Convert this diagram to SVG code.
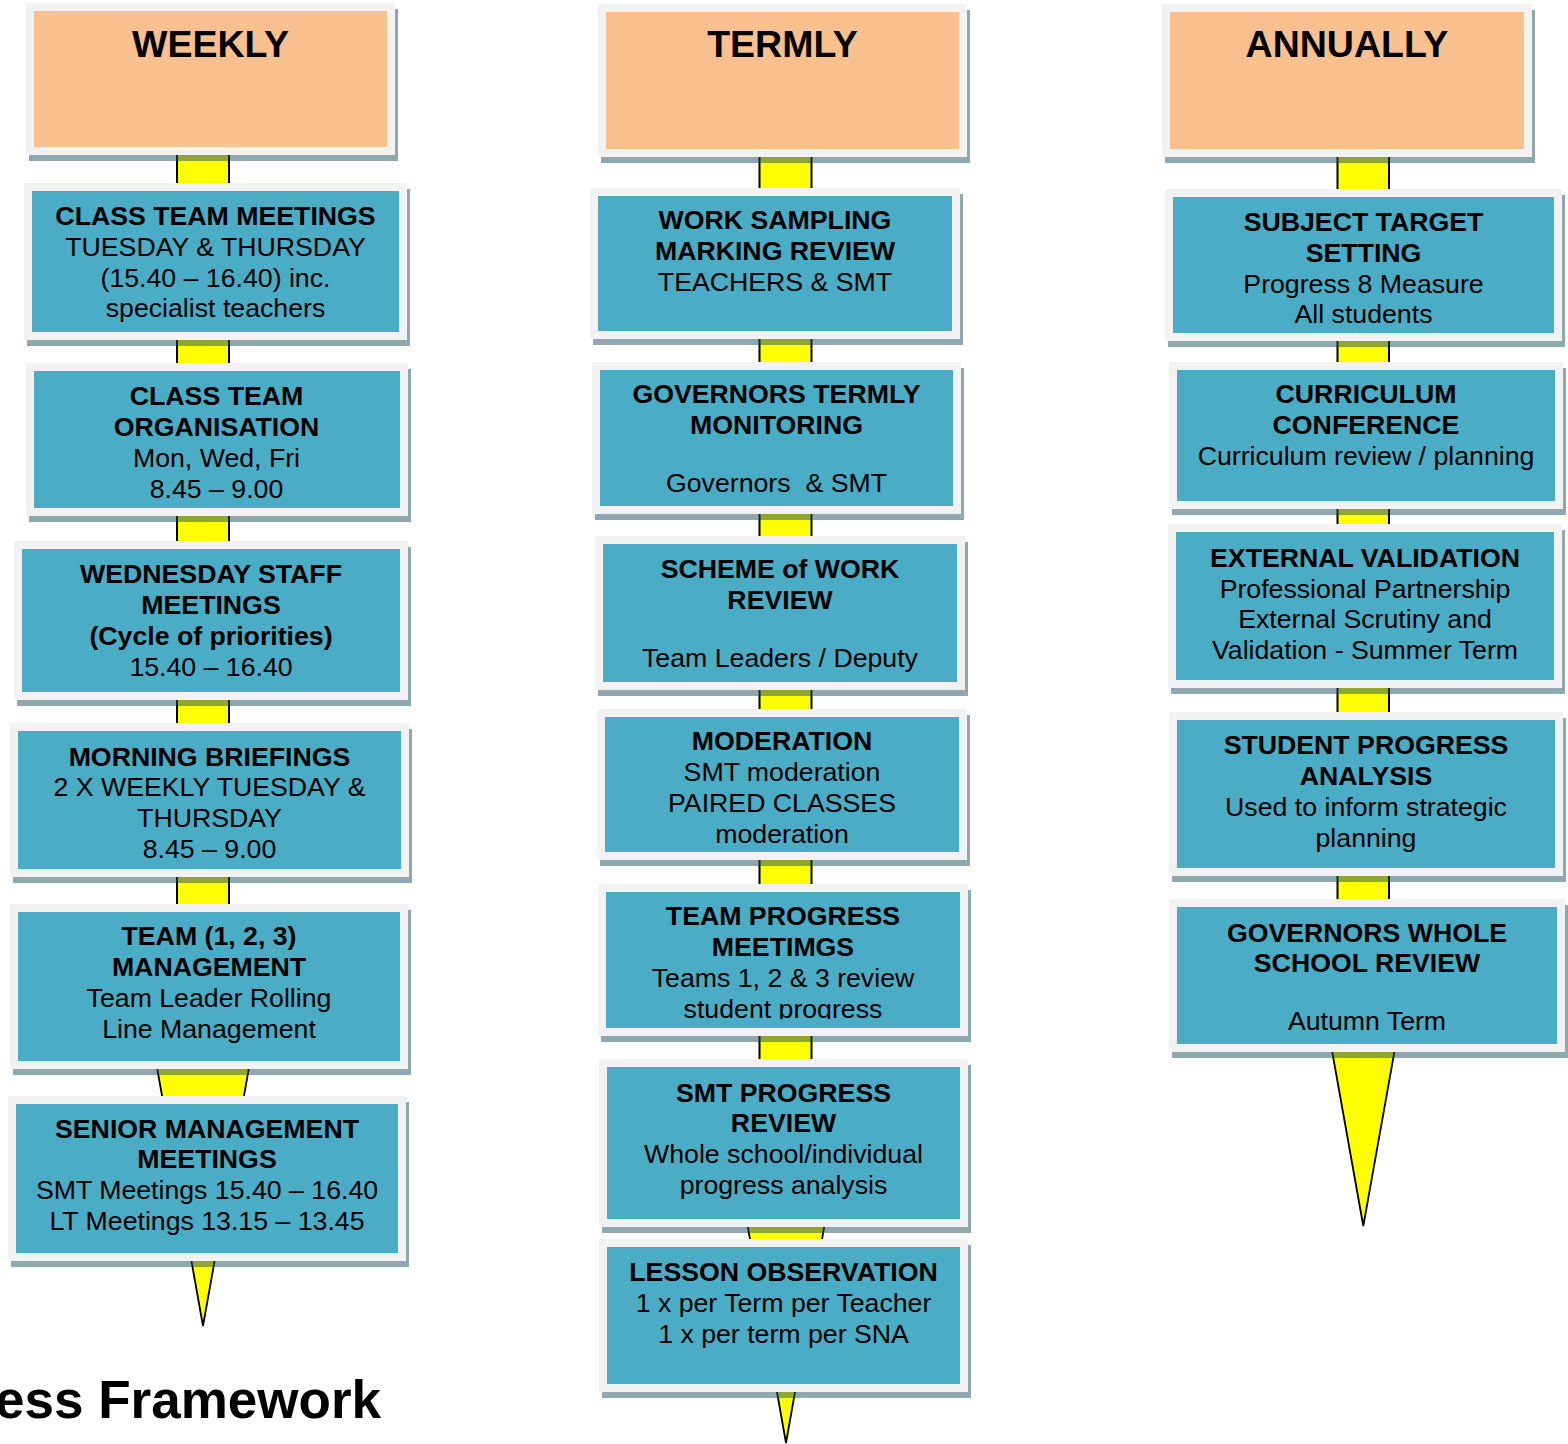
<svg xmlns="http://www.w3.org/2000/svg" width="1568" height="1444" viewBox="0 0 1568 1444">
  <style>
    .sh { fill: rgba(32,80,96,0.5); }
    .fr { fill: #F2F2F2; }
    .bl { fill: #4BACC6; }
    .pe { fill: #F9C08F; }
    .yl { fill: #FFFF00; stroke: #000; stroke-width: 2; }
    .yt { fill: #FFFF00; stroke: #000; stroke-width: 1.8; stroke-linejoin: miter; }
    text { font-family: "Liberation Sans", Arial, sans-serif; font-size: 26.7px; text-anchor: middle; fill: #000; }
    .b { font-weight: bold; }
    .hd { font-size: 37.5px; font-weight: bold; }
    .title { font-size: 53px; font-weight: bold; text-anchor: end; }
  </style>
  <defs>
    <clipPath id="clipTeamProgress">
      <rect x="606" y="892" width="354" height="127"/>
    </clipPath>
  </defs>
  <rect width="1568" height="1444" fill="#FFFFFF"/>

  <!-- yellow spines running behind each column -->
  <g id="connectors">
    <rect class="yl" x="177" y="150" width="52" height="915"/>
    <polygon class="yt" points="156,1062 250,1062 203,1326"/>
    <rect class="yl" x="759.5" y="150" width="52" height="1070"/>
    <polygon class="yt" points="745.7,1215 826.3,1215 786,1443"/>
    <rect class="yl" x="1337.5" y="150" width="51.5" height="896"/>
    <polygon class="yt" points="1330.8,1044 1395.8,1044 1363.3,1226"/>
  </g>

  <!-- WEEKLY column -->
  <g id="weekly">
    <rect class="sh" x="29" y="9" width="369" height="152"/>
    <rect class="fr" x="26" y="3" width="369" height="152"/>
    <rect class="pe" x="34" y="11" width="353" height="136"/>
    <text class="hd" x="210.5" y="57">WEEKLY</text>
  </g>
  <g id="class-team-meetings">
    <rect class="sh" x="27" y="189" width="383" height="157"/>
    <rect class="fr" x="24" y="183" width="383" height="157"/>
    <rect class="bl" x="32" y="191" width="367" height="141"/>
    <text class="b" x="215.5" y="225">CLASS TEAM MEETINGS</text>
    <text x="215.5" y="256">TUESDAY &amp; THURSDAY</text>
    <text x="215.5" y="287">(15.40 – 16.40) inc.</text>
    <text x="215.5" y="317">specialist teachers</text>
  </g>
  <g id="class-team-organisation">
    <rect class="sh" x="29" y="369" width="382" height="153"/>
    <rect class="fr" x="26" y="363" width="382" height="153"/>
    <rect class="bl" x="34" y="371" width="366" height="137"/>
    <text class="b" x="216.5" y="405">CLASS TEAM</text>
    <text class="b" x="216.5" y="436">ORGANISATION</text>
    <text x="216.5" y="467">Mon, Wed, Fri</text>
    <text x="216.5" y="498">8.45 – 9.00</text>
  </g>
  <g id="wednesday-staff-meetings">
    <rect class="sh" x="17" y="547" width="394" height="159"/>
    <rect class="fr" x="14" y="541" width="394" height="159"/>
    <rect class="bl" x="22" y="549" width="378" height="143"/>
    <text class="b" x="211" y="583">WEDNESDAY STAFF</text>
    <text class="b" x="211" y="614">MEETINGS</text>
    <text class="b" x="211" y="644.5">(Cycle of priorities)</text>
    <text x="211" y="675.5">15.40 – 16.40</text>
  </g>
  <g id="morning-briefings">
    <rect class="sh" x="13" y="729" width="399" height="154"/>
    <rect class="fr" x="10" y="723" width="399" height="154"/>
    <rect class="bl" x="18" y="731" width="383" height="138"/>
    <text class="b" x="209.5" y="766">MORNING BRIEFINGS</text>
    <text x="209.5" y="796">2 X WEEKLY TUESDAY &amp;</text>
    <text x="209.5" y="827">THURSDAY</text>
    <text x="209.5" y="858">8.45 – 9.00</text>
  </g>
  <g id="team-management">
    <rect class="sh" x="13" y="910" width="398" height="165"/>
    <rect class="fr" x="10" y="904" width="398" height="165"/>
    <rect class="bl" x="18" y="912" width="382" height="149"/>
    <text class="b" x="209" y="945">TEAM (1, 2, 3)</text>
    <text class="b" x="209" y="976">MANAGEMENT</text>
    <text x="209" y="1007">Team Leader Rolling</text>
    <text x="209" y="1038">Line Management</text>
  </g>
  <g id="senior-management-meetings">
    <rect class="sh" x="11" y="1102" width="398" height="165"/>
    <rect class="fr" x="8" y="1096" width="398" height="165"/>
    <rect class="bl" x="16" y="1104" width="382" height="149"/>
    <text class="b" x="207" y="1138">SENIOR MANAGEMENT</text>
    <text class="b" x="207" y="1168">MEETINGS</text>
    <text x="207" y="1199">SMT Meetings 15.40 – 16.40</text>
    <text x="207" y="1230">LT Meetings 13.15 – 13.45</text>
  </g>

  <!-- TERMLY column -->
  <g id="termly">
    <rect class="sh" x="601" y="10" width="369" height="153"/>
    <rect class="fr" x="598" y="4" width="369" height="153"/>
    <rect class="pe" x="606" y="12" width="353" height="137"/>
    <text class="hd" x="782.5" y="57">TERMLY</text>
  </g>
  <g id="work-sampling">
    <rect class="sh" x="593" y="194" width="370" height="151"/>
    <rect class="fr" x="590" y="188" width="370" height="151"/>
    <rect class="bl" x="598" y="196" width="354" height="135"/>
    <text class="b" x="775" y="229">WORK SAMPLING</text>
    <text class="b" x="775" y="260">MARKING REVIEW</text>
    <text x="775" y="291">TEACHERS &amp; SMT</text>
  </g>
  <g id="governors-termly-monitoring">
    <rect class="sh" x="595" y="368" width="369" height="152"/>
    <rect class="fr" x="592" y="362" width="369" height="152"/>
    <rect class="bl" x="600" y="370" width="353" height="136"/>
    <text class="b" x="776.5" y="402.5">GOVERNORS TERMLY</text>
    <text class="b" x="776.5" y="433.5">MONITORING</text>
    <text x="776.5" y="492" style="white-space: pre">Governors  &amp; SMT</text>
  </g>
  <g id="scheme-of-work-review">
    <rect class="sh" x="598" y="542" width="370" height="154"/>
    <rect class="fr" x="595" y="536" width="370" height="154"/>
    <rect class="bl" x="603" y="544" width="354" height="138"/>
    <text class="b" x="780" y="578">SCHEME of WORK</text>
    <text class="b" x="780" y="609">REVIEW</text>
    <text x="780" y="667">Team Leaders / Deputy</text>
  </g>
  <g id="moderation">
    <rect class="sh" x="600" y="715" width="370" height="151"/>
    <rect class="fr" x="597" y="709" width="370" height="151"/>
    <rect class="bl" x="605" y="717" width="354" height="135"/>
    <text class="b" x="782" y="750">MODERATION</text>
    <text x="782" y="781">SMT moderation</text>
    <text x="782" y="812">PAIRED CLASSES</text>
    <text x="782" y="843">moderation</text>
  </g>
  <g id="team-progress-meetings">
    <rect class="sh" x="601" y="890" width="370" height="152"/>
    <rect class="fr" x="598" y="884" width="370" height="152"/>
    <rect class="bl" x="606" y="892" width="354" height="136"/>
    <text class="b" x="783" y="925">TEAM PROGRESS</text>
    <text class="b" x="783" y="956">MEETIMGS</text>
    <text x="783" y="987">Teams 1, 2 &amp; 3 review</text>
    <text x="783" y="1018" clip-path="url(#clipTeamProgress)">student progress</text>
  </g>
  <g id="smt-progress-review">
    <rect class="sh" x="602" y="1065" width="369" height="168"/>
    <rect class="fr" x="599" y="1059" width="369" height="168"/>
    <rect class="bl" x="607" y="1067" width="353" height="152"/>
    <text class="b" x="783.5" y="1102">SMT PROGRESS</text>
    <text class="b" x="783.5" y="1132">REVIEW</text>
    <text x="783.5" y="1163">Whole school/individual</text>
    <text x="783.5" y="1194">progress analysis</text>
  </g>
  <g id="lesson-observation">
    <rect class="sh" x="602" y="1245" width="369" height="153"/>
    <rect class="fr" x="599" y="1239" width="369" height="153"/>
    <rect class="bl" x="607" y="1247" width="353" height="137"/>
    <text class="b" x="783.5" y="1281">LESSON OBSERVATION</text>
    <text x="783.5" y="1312">1 x per Term per Teacher</text>
    <text x="783.5" y="1343">1 x per term per SNA</text>
  </g>

  <!-- ANNUALLY column -->
  <g id="annually">
    <rect class="sh" x="1165" y="10" width="370" height="153"/>
    <rect class="fr" x="1162" y="4" width="370" height="153"/>
    <rect class="pe" x="1170" y="12" width="354" height="137"/>
    <text class="hd" x="1347" y="57">ANNUALLY</text>
  </g>
  <g id="subject-target-setting">
    <rect class="sh" x="1168" y="195" width="397" height="152"/>
    <rect class="fr" x="1165" y="189" width="397" height="152"/>
    <rect class="bl" x="1173" y="197" width="381" height="136"/>
    <text class="b" x="1363.5" y="231">SUBJECT TARGET</text>
    <text class="b" x="1363.5" y="262">SETTING</text>
    <text x="1363.5" y="293">Progress 8 Measure</text>
    <text x="1363.5" y="323">All students</text>
  </g>
  <g id="curriculum-conference">
    <rect class="sh" x="1172" y="368" width="394" height="147"/>
    <rect class="fr" x="1169" y="362" width="394" height="147"/>
    <rect class="bl" x="1177" y="370" width="378" height="131"/>
    <text class="b" x="1366" y="403">CURRICULUM</text>
    <text class="b" x="1366" y="434">CONFERENCE</text>
    <text x="1366" y="465">Curriculum review / planning</text>
  </g>
  <g id="external-validation">
    <rect class="sh" x="1171" y="530" width="394" height="164"/>
    <rect class="fr" x="1168" y="524" width="394" height="164"/>
    <rect class="bl" x="1176" y="532" width="378" height="148"/>
    <text class="b" x="1365" y="567">EXTERNAL VALIDATION</text>
    <text x="1365" y="597.5">Professional Partnership</text>
    <text x="1365" y="628">External Scrutiny and</text>
    <text x="1365" y="658.5">Validation - Summer Term</text>
  </g>
  <g id="student-progress-analysis">
    <rect class="sh" x="1172" y="718" width="394" height="164"/>
    <rect class="fr" x="1169" y="712" width="394" height="164"/>
    <rect class="bl" x="1177" y="720" width="378" height="148"/>
    <text class="b" x="1366" y="754">STUDENT PROGRESS</text>
    <text class="b" x="1366" y="785">ANALYSIS</text>
    <text x="1366" y="816">Used to inform strategic</text>
    <text x="1366" y="847">planning</text>
  </g>
  <g id="governors-whole-school-review">
    <rect class="sh" x="1172" y="905" width="396" height="153"/>
    <rect class="fr" x="1169" y="899" width="396" height="153"/>
    <rect class="bl" x="1177" y="907" width="380" height="137"/>
    <text class="b" x="1367" y="942">GOVERNORS WHOLE</text>
    <text class="b" x="1367" y="972">SCHOOL REVIEW</text>
    <text x="1367" y="1030">Autumn Term</text>
  </g>

  <text class="title" x="381" y="1418">ess Framework</text>
</svg>
